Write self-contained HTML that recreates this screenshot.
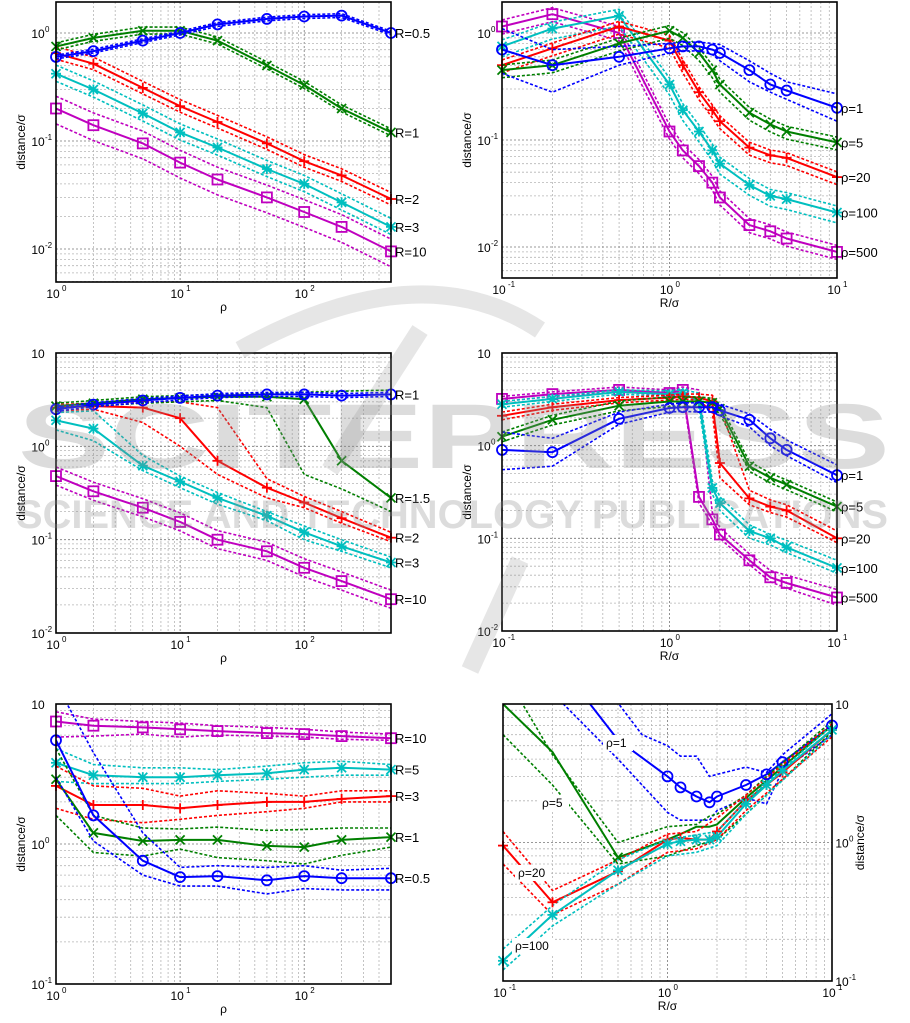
<!DOCTYPE html>
<html><head><meta charset="utf-8">
<style>
html,body{margin:0;padding:0;background:#fff;}
svg{display:block;font-family:"Liberation Sans",sans-serif;}
</style></head>
<body>
<svg id="s" width="910" height="1023" viewBox="0 0 910 1023" xmlns="http://www.w3.org/2000/svg"></svg>
<script>
const S=document.getElementById('s');let out='';
const C={b:'#0000ff',g:'#007f00',r:'#ff0000',c:'#00bfbf',m:'#bf00bf'};
function L(v){return Math.log10(v);}
function panel(P){
  const {x0,x1,y0,y1,lx0,lx1,ly0,ly1}=P;
  const X=v=>x0+(L(v)-lx0)/(lx1-lx0)*(x1-x0);
  const Y=v=>y0+(ly0-L(v))/(ly0-ly1)*(y1-y0);
  P.X=X;P.Y=Y;
  let g='';
  for(let d=Math.floor(lx0);d<=Math.ceil(lx1);d++)for(let k=1;k<10;k++){const v=k*Math.pow(10,d);const l=L(v);if(l<lx0-1e-6||l>lx1+1e-6)continue;const x=X(v).toFixed(1);
    g+=`<line x1="${x}" y1="${y0}" x2="${x}" y2="${y1}" stroke="${k==1?'#777':'#b5b5b5'}" stroke-width="0.8" stroke-dasharray="2,2"/>`;}
  for(let d=Math.floor(ly1);d<=Math.ceil(ly0);d++)for(let k=1;k<10;k++){const v=k*Math.pow(10,d);const l=L(v);if(l<ly1-1e-6||l>ly0+1e-6)continue;const y=Y(v).toFixed(1);
    g+=`<line x1="${x0}" y1="${y}" x2="${x1}" y2="${y}" stroke="${k==1?'#777':'#b5b5b5'}" stroke-width="0.8" stroke-dasharray="2,2"/>`;}
  for(let d=Math.ceil(lx0-1e-6);d<=Math.floor(lx1+1e-6);d++){const x=X(Math.pow(10,d));
    g+=`<text x="${x-3}" y="${y1+16}" font-size="12" text-anchor="middle">10</text><text x="${x+6}" y="${y1+9}" font-size="8">${d}</text>`;}
  const right=P.yr;
  for(let d=Math.ceil(ly1-1e-6);d<=Math.floor(ly0+1e-6);d++){const y=Y(Math.pow(10,d));
    const tx=right?x1+10:x0-18;
    g+=`<text x="${tx}" y="${y+5}" font-size="12" text-anchor="middle">10</text>`;
    if(d!=1)g+=`<text x="${tx+7}" y="${y-1}" font-size="8">${d}</text>`;}
  const cx=(x0+x1)/2;
  g+=`<text x="${cx}" y="${y1+29}" font-size="12" text-anchor="middle">${P.xl}</text>`;
  const ay=(y0+y1)/2;
  if(right) g+=`<text transform="translate(${x1+32},${ay}) rotate(-90)" font-size="12" text-anchor="middle">distance/σ</text>`;
  else g+=`<text transform="translate(${x0-31},${ay}) rotate(-90)" font-size="12" text-anchor="middle">distance/σ</text>`;
  out+=g;
  out+=`<clipPath id="c${P.id}"><rect x="${x0}" y="${y0}" width="${x1-x0}" height="${y1-y0}"/></clipPath>`;
}
function pts(P,xs,ys){return xs.map((x,i)=>[P.X(x),P.Y(ys[i])]);}
function poly(P,p,col,dash,w){return `<polyline clip-path="url(#c${P.id})" points="${p.map(q=>q[0].toFixed(1)+','+q[1].toFixed(1)).join(' ')}" fill="none" stroke="${col}" stroke-width="${w}" ${dash?'stroke-dasharray="3,2"':''} stroke-linejoin="round"/>`;}
function mark(x,y,t,col){x=+x;y=+y;const r=5;let s='';
  if(t=='o')s=`<circle cx="${x.toFixed(1)}" cy="${y.toFixed(1)}" r="${r}" fill="none" stroke="${col}" stroke-width="1.8"/>`;
  else if(t=='s')s=`<rect x="${(x-r).toFixed(1)}" y="${(y-r).toFixed(1)}" width="${2*r}" height="${2*r}" fill="none" stroke="${col}" stroke-width="1.8"/>`;
  else{const a=4.5;let l=[];
    if(t=='+'||t=='*')l.push([x-r,y,x+r,y],[x,y-r,x,y+r]);
    if(t=='x'||t=='*')l.push([x-a,y-a,x+a,y+a],[x-a,y+a,x+a,y-a]);
    for(const q of l)s+=`<line x1="${q[0].toFixed(1)}" y1="${q[1].toFixed(1)}" x2="${q[2].toFixed(1)}" y2="${q[3].toFixed(1)}" stroke="${col}" stroke-width="1.8"/>`;}
  return s;}
function series(P,xs,ys,col,mk,up,lo,lab){
  let g='';
  const U=Array.isArray(up)?up:ys.map(v=>v*up), D=Array.isArray(lo)?lo:ys.map(v=>v*lo);
  g+=poly(P,pts(P,xs,U),col,1,1.6);g+=poly(P,pts(P,xs,D),col,1,1.6);
  const p=pts(P,xs,ys);g+=poly(P,p,col,0,2);
  p.forEach(q=>{g+=mark(q[0],q[1],mk,col);});
  if(lab){const q=p[p.length-1];g+=`<text x="${P.x1+4}" y="${(q[1]+5).toFixed(1)}" font-size="13">${lab}</text>`;}
  out+=g;}
function seriesXY(P,arr,col,dash,w){out+=poly(P,arr.map(a=>[P.X(a[0]),P.Y(a[1])]),col,dash,w);}
const RX=[1,2,5,10,20,50,100,200,500];
const SX=[0.1,0.2,0.5,1,1.2,1.5,1.8,2,3,4,5,10];
function box(P){out+=`<rect x="${P.x0}" y="${P.y0}" width="${P.x1-P.x0}" height="${P.y1-P.y0}" fill="none" stroke="#000" stroke-width="1.6"/>`;}

let P={id:1,x0:56,x1:391,y0:2,y1:282,lx0:0,lx1:L(500),ly0:0.287,ly1:-2.306,xl:'ρ'};panel(P);
series(P,RX,[0.2,0.14,0.095,0.063,0.044,0.03,0.022,0.016,0.0095],C.m,'s',1.3,0.72,'R=10');
series(P,RX,[0.42,0.3,0.18,0.12,0.087,0.055,0.04,0.027,0.016],C.c,'*',1.2,0.85,'R=3');
series(P,RX,[0.65,0.52,0.31,0.21,0.15,0.095,0.065,0.048,0.029],C.r,'+',1.15,0.88,'R=2');
series(P,RX,[0.75,0.9,1.05,1.05,0.85,0.5,0.33,0.2,0.12],C.g,'x',1.08,0.93,'R=1');
series(P,RX,[0.6,0.68,0.85,1.0,1.2,1.35,1.42,1.45,1.0],C.b,'o',1.04,0.96,'R=0.5');
box(P);

P={id:2,x0:502,x1:837,y0:2,y1:278,lx0:-1,lx1:1,ly0:0.29,ly1:-2.29,xl:'R/σ'};panel(P);
series(P,SX,[1.15,1.5,1.0,0.12,0.08,0.057,0.04,0.029,0.016,0.014,0.012,0.009],C.m,'s',1.15,0.85,'ρ=500');
series(P,SX,[0.75,1.1,1.45,0.33,0.19,0.12,0.08,0.06,0.038,0.03,0.028,0.021],C.c,'*',1.15,0.8,'ρ=100');
series(P,SX,[0.5,0.72,1.15,0.85,0.5,0.28,0.19,0.15,0.085,0.072,0.068,0.045],C.r,'+',1.12,0.85,'ρ=20');
series(P,SX,[0.45,0.5,0.8,1.05,0.9,0.65,0.45,0.33,0.18,0.14,0.12,0.095],C.g,'x',1.12,0.85,'ρ=5');
series(P,SX,[0.7,0.5,0.6,0.72,0.75,0.75,0.7,0.65,0.45,0.33,0.29,0.2],C.b,'o',
 [1.1,0.7,0.75,0.8,0.82,0.82,0.8,0.78,0.55,0.42,0.35,0.27],[0.42,0.28,0.5,0.65,0.68,0.68,0.63,0.55,0.35,0.28,0.24,0.15],'ρ=1');
box(P);

P={id:3,x0:56,x1:391,y0:353,y1:633,lx0:0,lx1:L(500),ly0:1,ly1:-2,xl:'ρ'};panel(P);
series(P,RX,[0.48,0.33,0.22,0.155,0.1,0.075,0.05,0.036,0.023],C.m,'s',1.25,0.8,'R=10');
series(P,RX,[1.9,1.55,0.62,0.42,0.28,0.18,0.12,0.085,0.057],C.c,'*',[2.3,2.4,0.8,0.48,0.32,0.2,0.14,0.1,0.065],[1.5,1.15,0.55,0.36,0.24,0.16,0.1,0.075,0.05],'R=3');
series(P,RX,[2.6,2.7,2.6,2.0,0.7,0.36,0.25,0.17,0.105],C.r,'+',[2.8,2.9,3.0,3.0,2.6,0.45,0.29,0.2,0.12],[2.4,2.5,1.8,1.0,0.5,0.28,0.22,0.15,0.095],'R=2');
series(P,RX,[2.7,2.9,3.2,3.3,3.4,3.4,3.2,0.7,0.28],C.g,'x',[2.9,3.1,3.4,3.5,3.6,3.7,3.8,3.9,4.0],[2.6,2.7,2.9,3.0,3.1,2.6,0.5,0.35,0.2],'R=1.5');
series(P,RX,[2.5,2.8,3.1,3.3,3.5,3.6,3.6,3.5,3.6],C.b,'o',1.05,0.95,'R=1');
box(P);

P={id:4,x0:502,x1:837,y0:353,y1:631,lx0:-1,lx1:1,ly0:1,ly1:-2,xl:'R/σ'};panel(P);
series(P,SX,[3.2,3.6,4.0,3.7,4.0,0.28,0.16,0.11,0.058,0.038,0.033,0.023],C.m,'s',[3.4,3.8,4.3,4.0,4.3,4.0,0.19,0.13,0.068,0.045,0.04,0.028],[3.0,3.4,3.8,3.5,3.7,0.24,0.14,0.1,0.052,0.034,0.029,0.019],'ρ=500');
series(P,SX,[2.8,3.2,3.8,3.6,3.7,3.0,0.35,0.24,0.12,0.1,0.08,0.048],C.c,'*',[3.0,3.4,4.0,3.9,4.0,3.7,0.42,0.28,0.14,0.11,0.095,0.058],[2.6,3.0,3.6,3.4,3.4,2.6,0.3,0.2,0.1,0.085,0.07,0.042],'ρ=100');
series(P,SX,[2.1,2.6,3.1,3.3,3.4,3.3,3.0,0.65,0.27,0.22,0.2,0.1],C.r,'+',[2.3,2.8,3.3,3.5,3.6,3.6,3.5,2.6,0.33,0.26,0.23,0.12],[1.9,2.4,2.9,3.1,3.2,3.1,2.3,0.45,0.23,0.19,0.17,0.09],'ρ=20');
series(P,SX,[1.25,1.9,2.7,3.0,3.0,3.0,2.9,2.5,0.6,0.45,0.38,0.22],C.g,'x',1.12,0.88,'ρ=5');
series(P,SX,[0.9,0.85,1.95,2.55,2.6,2.6,2.6,2.4,1.9,1.2,0.9,0.48],C.b,'o',[1.4,1.2,2.3,2.8,2.9,2.9,2.9,2.8,2.2,1.5,1.15,0.62],[0.55,0.6,1.7,2.3,2.35,2.3,2.3,2.1,1.6,1.0,0.78,0.4],'ρ=1');
box(P);

P={id:5,x0:56,x1:391,y0:704,y1:984,lx0:0,lx1:L(500),ly0:1,ly1:-1,xl:'ρ'};panel(P);
series(P,RX,[7.5,7.0,6.8,6.6,6.4,6.2,6.1,5.9,5.7],C.m,'s',[8.8,7.8,7.5,7.3,7.0,6.8,6.6,6.3,6.1],[5.8,5.9,6.1,5.8,6.0,5.9,5.8,5.6,5.5],'R=10');
series(P,RX,[3.8,3.1,3.0,3.0,3.1,3.2,3.4,3.5,3.4],C.c,'*',[4.8,3.7,3.5,3.5,3.4,3.6,3.8,3.9,3.7],[2.8,2.7,2.7,2.7,2.8,2.9,3.0,3.1,3.1],'R=5');
series(P,RX,[2.6,1.9,1.9,1.8,1.9,2.0,2.0,2.1,2.2],C.r,'+',[3.6,2.6,2.5,2.2,2.4,2.3,2.2,2.4,2.4],[1.8,1.5,1.42,1.5,1.6,1.7,1.8,2.0,2.0],'R=3');
series(P,RX,[2.9,1.2,1.05,1.07,1.07,0.97,0.95,1.07,1.12],C.g,'x',[4.8,1.6,1.3,1.28,1.32,1.25,1.27,1.3,1.3],[1.6,0.87,0.82,0.92,0.8,0.76,0.72,0.83,0.95],'R=1');
series(P,RX,[5.5,1.6,0.76,0.58,0.59,0.55,0.59,0.57,0.57],C.b,'o',[14,4.5,1.2,0.68,0.7,0.68,0.7,0.65,0.67],[3.0,1.05,0.6,0.5,0.5,0.44,0.48,0.47,0.47],'R=0.5');
box(P);

P={id:6,x0:503,x1:832,y0:704,y1:981,lx0:-1,lx1:1,ly0:1,ly1:-1,xl:'R/σ',yr:1};panel(P);
seriesXY(P,[[0.45,12],[0.7,6],[1,5],[1.2,4.2],[1.5,4.2],[1.8,3.0],[2,3.1],[3,3.5],[4,3.2],[5,4.3],[10,8.5]],C.b,1,1.6);
seriesXY(P,[[0.2,12],[0.5,4.0],[1,1.65],[1.2,1.45],[1.5,1.45],[1.8,1.45],[2,1.7],[3,2.1],[4,1.9],[5,3.3],[10,6]],C.b,1,1.6);
const BB=[[0.3,12],[0.5,5.5],[1,3.0],[1.2,2.5],[1.5,2.15],[1.8,1.95],[2,2.15],[3,2.6],[4,3.1],[5,3.8],[10,7]];
seriesXY(P,BB,C.b,0,2);
seriesXY(P,[[0.12,12],[0.2,4.3],[0.5,1.0],[1,1.3],[1.5,1.35],[1.8,1.55],[2,1.6],[3,2.2],[4,3],[10,7.5]],C.g,1,1.6);
seriesXY(P,[[0.1,6],[0.2,2.6],[0.5,0.7],[1,0.8],[1.5,0.95],[2,1.05],[3,1.6],[4,2.2],[10,6.3]],C.g,1,1.6);
const GG=[[0.1,10],[0.2,4.5],[0.5,0.78],[1,1.05],[1.2,1.15],[1.5,1.3],[1.8,1.3],[2,1.35],[3,2.1],[4,2.8],[5,3.5],[10,7]];
seriesXY(P,GG,C.g,0,2);
seriesXY(P,[[0.1,1.2],[0.2,0.45],[0.5,0.75],[1,1.15],[1.5,1.2],[2,1.5],[3,2.2],[10,7.2]],C.r,1,1.6);
seriesXY(P,[[0.1,0.7],[0.2,0.3],[0.5,0.5],[1,0.85],[1.5,0.9],[2,1.05],[3,1.7],[10,5.8]],C.r,1,1.6);
const RR=[[0.1,0.95],[0.2,0.37],[0.5,0.62],[1,1.05],[1.2,1.08],[1.5,1.05],[1.8,1.05],[2,1.2],[3,2.0],[4,2.6],[5,3.2],[10,6.5]];
seriesXY(P,RR,C.r,0,2);
seriesXY(P,[[0.1,0.17],[0.2,0.35],[0.5,0.75],[1,1.05],[2,1.2],[3,2],[10,7]],C.c,1,1.6);
seriesXY(P,[[0.1,0.12],[0.2,0.25],[0.5,0.5],[1,0.8],[1.5,0.85],[2,0.95],[3,1.6],[10,6]],C.c,1,1.6);
const CC=[[0.1,0.14],[0.2,0.3],[0.5,0.63],[1,0.98],[1.2,1.02],[1.5,1.05],[1.8,1.05],[2,1.1],[3,1.9],[4,2.6],[5,3.3],[10,6.5]];
seriesXY(P,CC,C.c,0,2);
function lab6(x,y,t,w){out+=`<rect x="${x-3}" y="${y-12}" width="${w}" height="16" fill="#fff"/><text x="${x}" y="${y}" font-size="12">${t}</text>`;}
lab6(606,747,'ρ=1',30);lab6(542,807,'ρ=5',30);lab6(518,877,'ρ=20',36);lab6(515,950,'ρ=100',42);
BB.slice(2).forEach(q=>out+=mark(P.X(q[0]),P.Y(q[1]),'o',C.b));
GG.slice(2,3).forEach(q=>out+=mark(P.X(q[0]),P.Y(q[1]),'x',C.g));
RR.forEach(q=>out+=mark(P.X(q[0]),P.Y(q[1]),'+',C.r));
CC.forEach(q=>out+=mark(P.X(q[0]),P.Y(q[1]),'*',C.c));
box(P);

out+=`<g fill="#8c8c8c" fill-opacity="0.3" font-weight="bold">
<text x="18" y="468" font-size="92" textLength="872" lengthAdjust="spacingAndGlyphs">SCITEPRESS</text>
<text x="16" y="528" font-size="40" textLength="872" lengthAdjust="spacingAndGlyphs">SCIENCE AND TECHNOLOGY PUBLICATIONS</text></g>
<path d="M240,350 Q420,250 540,330 M520,560 L470,670 M420,330 L330,470" stroke="#8c8c8c" stroke-opacity="0.22" stroke-width="18" fill="none"/>`;
S.innerHTML=out;
</script>
</body></html>
